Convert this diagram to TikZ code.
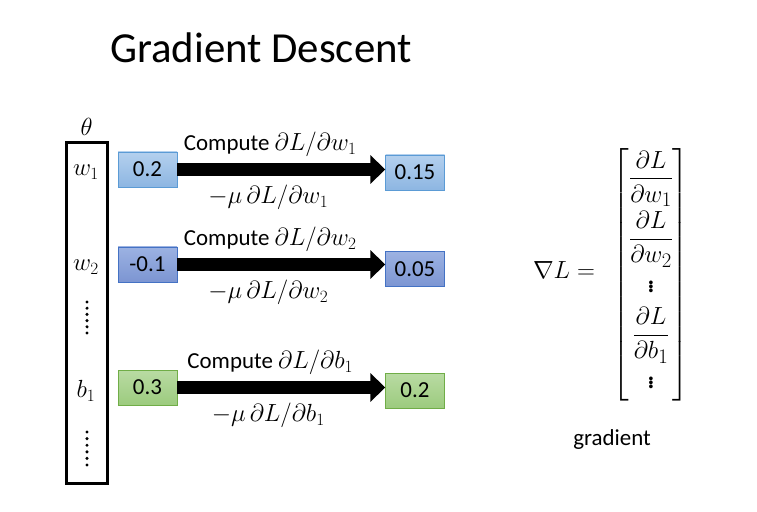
\documentclass[tikz,border=0pt]{standalone}
\usepackage{amsmath}
\usepackage{fontspec}
\setmainfont{Carlito}
\usetikzlibrary{arrows.meta}
\usetikzlibrary{positioning}

\definecolor{bluetop}{HTML}{B4D0EE}
\definecolor{bluebot}{HTML}{8DB6E2}
\definecolor{blueline}{HTML}{5B9BD5}
\definecolor{indigotop}{HTML}{9CB2E2}
\definecolor{indigobot}{HTML}{7C95D2}
\definecolor{indigoline}{HTML}{4472C4}
\definecolor{greentop}{HTML}{B9DBA3}
\definecolor{greenbot}{HTML}{9CCB7E}
\definecolor{greenline}{HTML}{70AD47}

\begin{document}
\begin{tikzpicture}[x=1bp,y=-1bp,every node/.style={font=\fontsize{23}{28}\selectfont},
	valbox/.style={draw, minimum width=59bp, minimum height=35bp, inner sep=0pt},
	bluebox/.style={valbox, draw=blueline, top color=bluetop, bottom color=bluebot},
	indigobox/.style={valbox, draw=indigoline, top color=indigotop, bottom color=indigobot},
	greenbox/.style={valbox, draw=greenline, top color=greentop, bottom color=greenbot},
	entry/.style={font=\fontsize{25}{30}\selectfont},
	bigarrow/.style={line width=13bp, -{Triangle[length=15bp,width=28bp]}}]
	
	\useasboundingbox (0,0) rectangle (757,512);
	
	\node[font=\fontsize{43}{52}\selectfont] (title) at (261,48) {Gradient Descent};
	
	% parameter vector
	\node[draw, line width=3bp, minimum width=41bp, minimum height=340bp, inner sep=0pt] (vec) at (86.5,313) {};
	\node[above=2bp of vec, entry] (theta) {$\theta$};
	\node[entry] (w1) at (86,172) {$w_1$};
	\node[entry] (w2) at (86,267) {$w_2$};
	\node[entry] (b1) at (86,391) {$b_1$};
	\foreach \y in {302,308.2,314.4,320.6,326.8,333}
		\fill (87,\y) circle (1.7);
	\foreach \y in {432,438.6,445.2,451.8,458.4,465}
		\fill (87,\y) circle (1.7);
	
	% updates
	\node[bluebox] (old1) at (147.5,169.5) {0.2};
	\node[bluebox] (new1) at (415,172.5) {0.15};
	\node[indigobox] (old2) at (147.5,264.5) {-0.1};
	\node[indigobox] (new2) at (415,269) {0.05};
	\node[greenbox] (old3) at (147.5,387.5) {0.3};
	\node[greenbox] (new3) at (415,390.5) {0.2};
	
	\draw[bigarrow] (old1.east) -- (old1.east -| new1.west)
		node[midway, yshift=25bp, xshift=-11bp] (c1) {Compute $\partial L/\partial w_1$}
		node[midway, yshift=-28bp, xshift=-13bp] (m1) {$-\mu\,\partial L/\partial w_1$};
	\draw[bigarrow] (old2.east) -- (old2.east -| new2.west)
		node[midway, yshift=25bp, xshift=-11bp] (c2) {Compute $\partial L/\partial w_2$}
		node[midway, yshift=-28bp, xshift=-13bp] (m2) {$-\mu\,\partial L/\partial w_2$};
	\draw[bigarrow] (old3.east) -- (old3.east -| new3.west)
		node[midway, yshift=25bp, xshift=-11bp] (c3) {Compute $\partial L/\partial b_1$}
		node[midway, yshift=-28bp, xshift=-13bp] (m3) {$-\mu\,\partial L/\partial b_1$};
	
	% gradient
	\node[font=\fontsize{28}{33}\selectfont] (nabla) at (564,270) {$\nabla L =$};
	\node[font=\fontsize{31}{36}\selectfont] (grad) at (651,275) {$\begin{bmatrix}
			\dfrac{\partial L}{\partial w_1}\\[16pt]
			\dfrac{\partial L}{\partial w_2}\\
			\vdots\\[4pt]
			\dfrac{\partial L}{\partial b_1}\\
			\vdots
		\end{bmatrix}$};
	\node (gname) at (612,440) {gradient};
\end{tikzpicture}
\end{document}
